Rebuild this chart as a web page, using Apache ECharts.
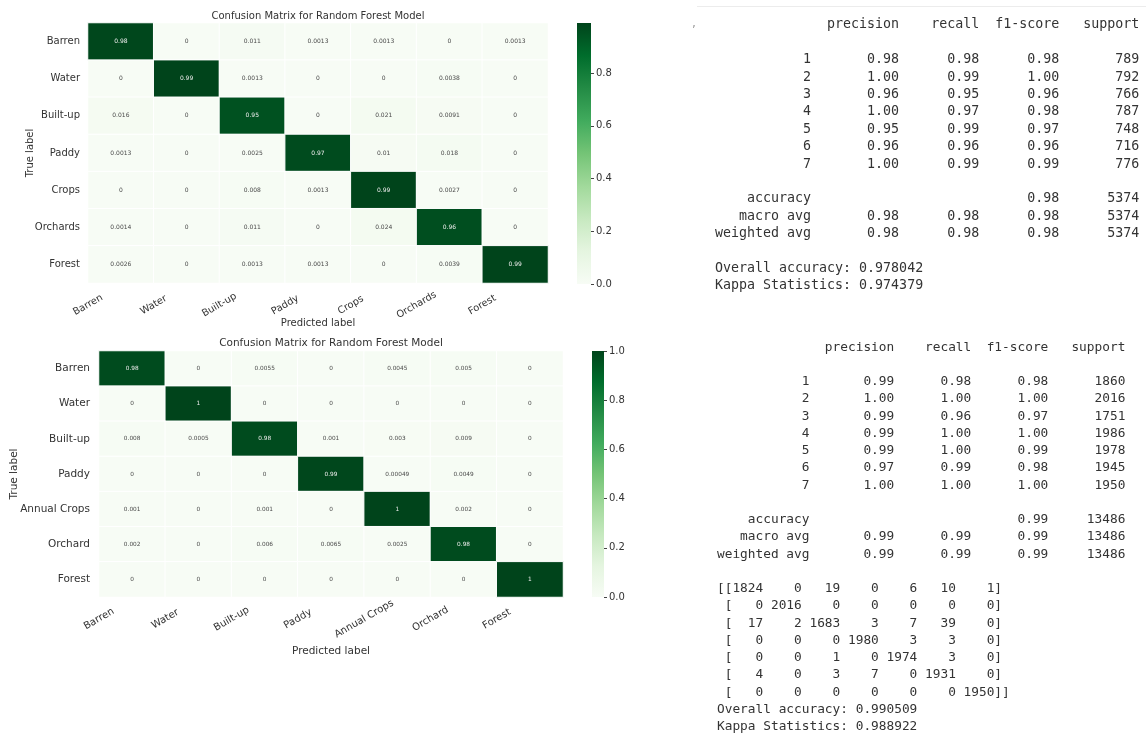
<!DOCTYPE html>
<html>
<head>
<meta charset="utf-8">
<script src="https://cdn.jsdelivr.net/npm/echarts@6/dist/echarts.min.js"></script>
<style>
  html, body { margin: 0; padding: 0; background: #ffffff; }
  #chart { width: 1146px; height: 735px; }
</style>
</head>
<body>
<div id="chart"></div>
<script>
// ---- Model A: normalised confusion matrix (rows = true, cols = predicted)
const classesA = ['Barren', 'Water', 'Built-up', 'Paddy', 'Crops', 'Orchards', 'Forest'];
const matrixA = [
  [0.98,   0,    0.011,  0.0013, 0.0013, 0,      0.0013],
  [0,      0.99, 0.0013, 0,      0,      0.0038, 0],
  [0.016,  0,    0.95,   0,      0.021,  0.0091, 0],
  [0.0013, 0,    0.0025, 0.97,   0.01,   0.018,  0],
  [0,      0,    0.008,  0.0013, 0.99,   0.0027, 0],
  [0.0014, 0,    0.011,  0,      0.024,  0.96,   0],
  [0.0026, 0,    0.0013, 0.0013, 0,      0.0039, 0.99]
];

// ---- Model B: normalised confusion matrix
const classesB = ['Barren', 'Water', 'Built-up', 'Paddy', 'Annual Crops', 'Orchard', 'Forest'];
const matrixB = [
  [0.98,  0,      0.0055, 0,      0.0045,  0.005,  0],
  [0,     1,      0,      0,      0,       0,      0],
  [0.008, 0.0005, 0.98,   0.001,  0.003,   0.009,  0],
  [0,     0,      0,      0.99,   0.00049, 0.0049, 0],
  [0.001, 0,      0.001,  0,      1,       0.002,  0],
  [0.002, 0,      0.006,  0.0065, 0.0025,  0.98,   0],
  [0,     0,      0,      0,      0,       0,      1]
];

// colour bar tick values
const colorbarTicks = [0, 0.2, 0.4, 0.6, 0.8, 1.0];

// ---- Classification report A
const reportLabels = ['1', '2', '3', '4', '5', '6', '7'];
const precisionA = [0.98, 1.00, 0.96, 1.00, 0.95, 0.96, 1.00];
const recallA    = [0.98, 0.99, 0.95, 0.97, 0.99, 0.96, 0.99];
const f1A        = [0.98, 1.00, 0.96, 0.98, 0.97, 0.96, 0.99];
const supportA   = [789, 792, 766, 787, 748, 716, 776];
const accuracyA  = [0.98, 5374];
const macroA     = [0.98, 0.98, 0.98, 5374];
const weightedA  = [0.98, 0.98, 0.98, 5374];
const overallA   = 0.978042;
const kappaA     = 0.974379;

// ---- Classification report B
const precisionB = [0.99, 1.00, 0.99, 0.99, 0.99, 0.97, 1.00];
const recallB    = [0.98, 1.00, 0.96, 1.00, 1.00, 0.99, 1.00];
const f1B        = [0.98, 1.00, 0.97, 1.00, 0.99, 0.98, 1.00];
const supportB   = [1860, 2016, 1751, 1986, 1978, 1945, 1950];
const accuracyB  = [0.99, 13486];
const macroB     = [0.99, 0.99, 0.99, 13486];
const weightedB  = [0.99, 0.99, 0.99, 13486];
const countsB = [
  [1824, 0,    19,   0,    6,    10,   1],
  [0,    2016, 0,    0,    0,    0,    0],
  [17,   2,    1683, 3,    7,    39,   0],
  [0,    0,    0,    1980, 3,    3,    0],
  [0,    0,    1,    0,    1974, 3,    0],
  [4,    0,    3,    7,    0,    1931, 0],
  [0,    0,    0,    0,    0,    0,    1950]
];
const overallB = 0.990509;
const kappaB   = 0.988922;

// matplotlib "Greens"
const GREENS = ['#f7fcf5', '#e5f5e0', '#c7e9c0', '#a1d99b', '#74c476',
                '#41ab5d', '#238b45', '#006d2c', '#00441b'];

const SANS = 'DejaVu Sans';
const MONO = 'DejaVu Sans Mono';
const INK = '#333333';

function heatData(matrix) {
  const out = [];
  matrix.forEach((row, i) => row.forEach((v, j) => {
    out.push({ value: [j, i, v], label: { color: v > 0.5 ? '#eeeeee' : '#4a4a4a' } });
  }));
  return out;
}

function gradient() {
  return {
    type: 'linear', x: 0, y: 1, x2: 0, y2: 0,
    colorStops: GREENS.map((c, k) => ({ offset: k / (GREENS.length - 1), color: c }))
  };
}

// text report in the layout of sklearn's classification_report
const W = 12;
const num = (v) => ' ' + v.toFixed(2).padStart(9);
function reportLines(prec, rec, f1, sup, acc, macro, weighted) {
  const lines = [];
  lines.push(''.padStart(W) + ' ' + ['precision', 'recall', 'f1-score', 'support']
    .map(h => ' ' + h.padStart(9)).join(''));
  lines.push('');
  reportLabels.forEach((n, k) => {
    lines.push(n.padStart(W) + ' ' + num(prec[k]) + num(rec[k]) + num(f1[k]) + ' ' + String(sup[k]).padStart(9));
  });
  lines.push('');
  lines.push('accuracy'.padStart(W) + ' ' + ' '.repeat(20) + num(acc[0]) + ' ' + String(acc[1]).padStart(9));
  lines.push('macro avg'.padStart(W) + ' ' + num(macro[0]) + num(macro[1]) + num(macro[2]) + ' ' + String(macro[3]).padStart(9));
  lines.push('weighted avg'.padStart(W) + ' ' + num(weighted[0]) + num(weighted[1]) + num(weighted[2]) + ' ' + String(weighted[3]).padStart(9));
  return lines;
}

const linesA = reportLines(precisionA, recallA, f1A, supportA, accuracyA, macroA, weightedA);
linesA.push('');
linesA.push('Overall accuracy: ' + overallA.toFixed(6));
linesA.push('Kappa Statistics: ' + kappaA.toFixed(6));

// numpy-style printout of the count matrix
const linesB = reportLines(precisionB, recallB, f1B, supportB, accuracyB, macroB, weightedB);
linesB.push('');
countsB.forEach((row, i) => {
  const body = row.map(v => String(v).padStart(4)).join(' ');
  const pre = i === 0 ? '[[' : ' [';
  const post = i === countsB.length - 1 ? ']]' : ']';
  linesB.push(pre + body + post);
});
linesB.push('Overall accuracy: ' + overallB.toFixed(6));
linesB.push('Kappa Statistics: ' + kappaB.toFixed(6));

function textBlock(lines, x, y0, step, size) {
  return lines.map((s, k) => ({
    type: 'text', x: x, y: y0 + k * step, silent: true,
    style: { text: s, fontFamily: MONO, fontSize: size, fill: INK, align: 'left', verticalAlign: 'middle' }
  }));
}

function label(text, x, y, size, rot) {
  return {
    type: 'text', x: x, y: y, rotation: rot || 0, silent: true,
    style: { text: text, fontFamily: SANS, fontSize: size, fill: INK, align: 'center', verticalAlign: 'middle' }
  };
}

const maxA = Math.max(...matrixA.flat());
const maxB = Math.max(...matrixB.flat());

const chart = echarts.init(document.getElementById('chart'), null, { renderer: 'canvas' });

const hidden = { show: false };
function cellAxis(gridIndex, data, extra) {
  return Object.assign({
    type: 'category', gridIndex, data, boundaryGap: true,
    axisLine: hidden, axisTick: hidden, splitLine: hidden
  }, extra || {});
}
function edgeAxis(gridIndex, data, margin, size) {
  // category labels placed on cell boundaries
  return {
    type: 'category', gridIndex, data: data.concat(['']), boundaryGap: false, position: 'bottom',
    axisLine: hidden, axisTick: hidden, splitLine: hidden,
    axisLabel: { interval: 0, rotate: 30, align: 'center', verticalAlign: 'middle', margin,
                 fontFamily: SANS, fontSize: size, color: INK }
  };
}
function barAxis(gridIndex, max, size) {
  const ticks = colorbarTicks.filter(t => t <= max + 1e-9);
  return {
    type: 'value', gridIndex, min: 0, max, position: 'right',
    axisLine: hidden, splitLine: hidden,
    axisTick: { show: true, length: 3, customValues: ticks, lineStyle: { color: '#444', width: 1 } },
    axisLabel: { margin: 5, fontFamily: SANS, fontSize: size, color: INK,
                 customValues: ticks, formatter: v => v.toFixed(1) }
  };
}

const option = {
  backgroundColor: '#ffffff',
  animation: false,
  grid: [
    { left: 88, top: 23, width: 460, height: 260 },
    { left: 577, top: 23, width: 14, height: 261 },
    { left: 99, top: 351, width: 464, height: 246 },
    { left: 592, top: 351, width: 12, height: 246 }
  ],
  xAxis: [
    cellAxis(0, classesA, { axisLabel: hidden }),
    edgeAxis(0, classesA, 22, 9.8),
    cellAxis(1, [''], { axisLabel: hidden }),
    cellAxis(2, classesB, { axisLabel: hidden }),
    edgeAxis(2, classesB, 22, 10),
    cellAxis(3, [''], { axisLabel: hidden })
  ],
  yAxis: [
    cellAxis(0, classesA, { inverse: true, axisLabel: { margin: 8, fontFamily: SANS, fontSize: 10, color: INK } }),
    barAxis(1, maxA, 10),
    cellAxis(2, classesB, { inverse: true, axisLabel: { margin: 9, fontFamily: SANS, fontSize: 10.5, color: INK } }),
    barAxis(3, maxB, 10)
  ],
  visualMap: [
    { show: false, seriesIndex: 0, min: 0, max: maxA, dimension: 2, inRange: { color: GREENS } },
    { show: false, seriesIndex: 2, min: 0, max: maxB, dimension: 2, inRange: { color: GREENS } }
  ],
  series: [
    {
      type: 'heatmap', xAxisIndex: 0, yAxisIndex: 0, data: heatData(matrixA),
      itemStyle: { borderColor: '#ffffff', borderWidth: 1 },
      label: { show: true, fontFamily: SANS, fontSize: 6, formatter: p => String(p.value[2]) },
      emphasis: { disabled: true }
    },
    {
      type: 'bar', xAxisIndex: 2, yAxisIndex: 1, data: [maxA], barWidth: '100%', silent: true,
      itemStyle: { color: gradient() }
    },
    {
      type: 'heatmap', xAxisIndex: 3, yAxisIndex: 2, data: heatData(matrixB),
      itemStyle: { borderColor: '#ffffff', borderWidth: 1 },
      label: { show: true, fontFamily: SANS, fontSize: 5.8, formatter: p => String(p.value[2]) },
      emphasis: { disabled: true }
    },
    {
      type: 'bar', xAxisIndex: 5, yAxisIndex: 3, data: [maxB], barWidth: '100%', silent: true,
      itemStyle: { color: gradient() }
    }
  ],
  graphic: [
    label('Confusion Matrix for Random Forest Model', 318, 16, 10),
    label('Predicted label', 318, 323, 10),
    label('True label', 30, 153, 10, Math.PI / 2),
    label('Confusion Matrix for Random Forest Model', 331, 343, 10.5),
    label('Predicted label', 331, 651, 10.5),
    label('True label', 14, 474, 10.5, Math.PI / 2),
    { type: 'line', silent: true, shape: { x1: 697, y1: 6.5, x2: 1146, y2: 6.5 },
      style: { stroke: '#ececec', lineWidth: 1 } },
    { type: 'text', x: 691, y: 24, silent: true,
      style: { text: ',', fontFamily: MONO, fontSize: 10, fill: '#999', align: 'left', verticalAlign: 'middle' } }
  ].concat(textBlock(linesA, 715, 25, 17.4, 13.3))
   .concat(textBlock(linesB, 717, 347.3, 17.25, 12.8))
};

chart.setOption(option);
</script>
</body>
</html>
